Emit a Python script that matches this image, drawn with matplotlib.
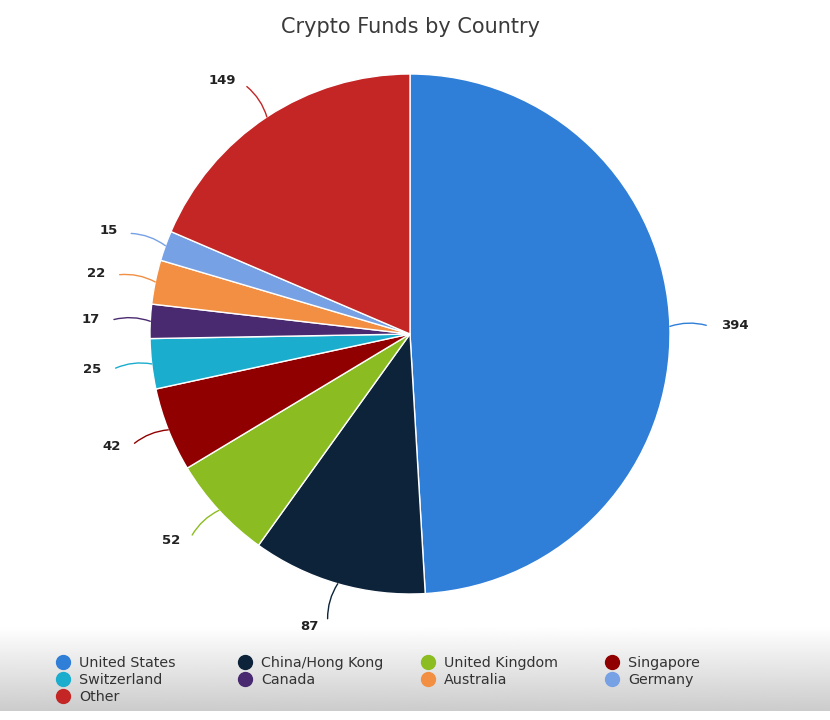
import numpy as np
import matplotlib.pyplot as plt

countries = ["United States", "China/Hong Kong", "United Kingdom", "Singapore",
             "Switzerland", "Canada", "Australia", "Germany", "Other"]
funds = [394, 87, 52, 42, 25, 17, 22, 15, 149]
colors = ["#2f7ed8", "#0d233a", "#8bbc21", "#910000", "#1aadce",
          "#492970", "#f28f43", "#77a1e5", "#c42525"]

W, H = 830, 720
fig = plt.figure(figsize=(W / 100, H / 100), dpi=100)

# grey fade behind the legend
bg = fig.add_axes([0, 9 / H, 1, 85 / H], zorder=-5)
grad = np.linspace(0.80, 1.0, 100).reshape(-1, 1)
bg.imshow(grad, cmap="gray", vmin=0, vmax=1, aspect="auto", origin="lower",
          extent=[0, 1, 0, 1])
bg.axis("off")

cx, cy, r = 410, 334, 260
ax = fig.add_axes([(cx - r) / W, (H - cy - r) / H, 2 * r / W, 2 * r / H])
wedges, _ = ax.pie(funds, colors=colors, startangle=90, counterclock=False,
                   wedgeprops=dict(edgecolor="white", linewidth=1))
ax.set_xlim(-1, 1)
ax.set_ylim(-1, 1)

for w, v, c in zip(wedges, funds, colors):
    ang = np.deg2rad((w.theta1 + w.theta2) / 2)
    ca, sa = np.cos(ang), np.sin(ang)
    side = 1 if ca >= 0 else -1
    ax.annotate("", xy=(ca, sa), xytext=(1.14 * ca, 1.14 * sa),
                arrowprops=dict(arrowstyle="-", color=c, lw=1,
                                shrinkA=0, shrinkB=0,
                                connectionstyle=f"arc3,rad={0.15 * side}"),
                annotation_clip=False)
    ax.text(1.17 * ca + 0.025 * side, 1.17 * sa, str(v),
            ha="left" if side > 0 else "right", va="center",
            fontsize=9.5, fontweight="bold", color="#222222", clip_on=False)

fig.text(410 / W, 1 - 27 / H, "Crypto Funds by Country", ha="center",
         va="center", fontsize=15, color="#3a3a3a")

# legend laid out as four columns, row-major like the original
col_x = [55, 237, 420, 604]
for j, x in enumerate(col_x):
    idx = list(range(j, len(countries), 4))
    handles = [plt.Line2D([], [], marker="o", linestyle="", markersize=10,
                          color=colors[i]) for i in idx]
    fig.legend(handles, [countries[i] for i in idx], loc="upper left",
               bbox_to_anchor=(x / W, 1 - 656 / H), frameon=False,
               fontsize=10.3, handlelength=1.1, handletextpad=0.6,
               labelspacing=0.2, borderpad=0, borderaxespad=0,
               labelcolor="#333333")

fig.savefig("out.png", dpi=100, facecolor="white")
